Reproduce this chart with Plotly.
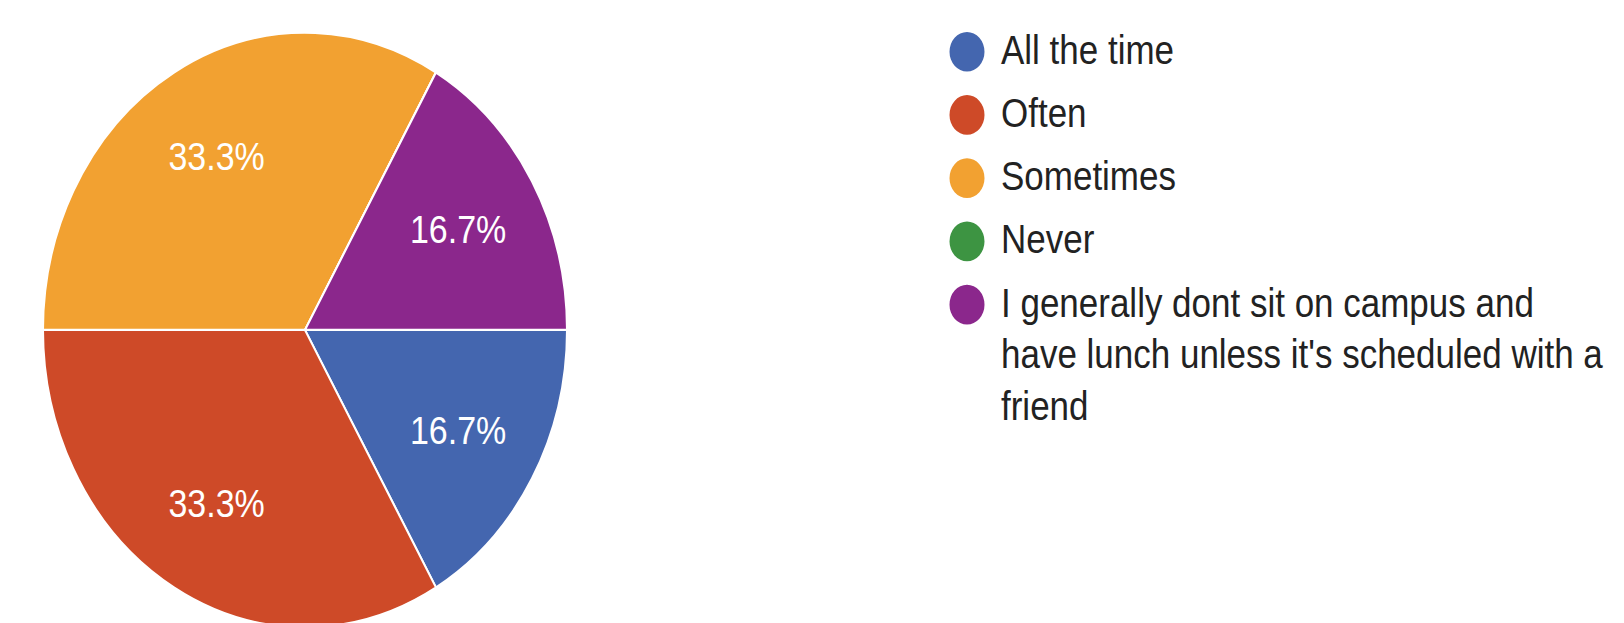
import plotly.graph_objects as go

# Survey answers and how many respondents picked each
labels = [
    "All the time",
    "Often",
    "Sometimes",
    "Never",
    "I generally dont sit on campus and have lunch unless it's scheduled with a friend",
]
legend_text = [
    "All the time",
    "Often",
    "Sometimes",
    "Never",
    "I generally dont sit on campus and<br>have lunch unless it's scheduled with a<br>friend",
]
counts = [1, 2, 2, 0, 1]
colors = ["#4466AF", "#CE4A28", "#F2A131", "#3D9442", "#8B278C"]

# Canvas geometry (drawn at this size, then stretched vertically by STRETCH)
W, H = 1624, 553
STRETCH = 1.135
CX, CY, R = 305, 290.7, 262
FONT = "Liberation Sans, Arial, sans-serif"

dom_x = [(CX - R) / W, (CX + R) / W]
dom_y = [max(0.0, (H - CY - R) / H), (H - CY + R) / H]

fig = go.Figure()

# Coloured slices
fig.add_trace(go.Pie(
    labels=labels,
    values=counts,
    sort=False,
    direction="clockwise",
    rotation=90,
    marker=dict(colors=colors, line=dict(color="white", width=2)),
    textinfo="none",
    hoverinfo="label+percent",
    showlegend=False,
    domain=dict(x=dom_x, y=dom_y),
))

# Percentage labels, set on a ring so they sit out towards the rim
fig.add_trace(go.Pie(
    labels=labels,
    values=counts,
    sort=False,
    direction="clockwise",
    rotation=90,
    hole=0.35,
    marker=dict(colors=["rgba(0,0,0,0)"] * len(counts), line=dict(width=0)),
    texttemplate=["%{percent:.1%}" if v > 0 else "" for v in counts],
    textposition="inside",
    insidetextorientation="horizontal",
    textfont=dict(color="white", size=34, family=FONT),
    hoverinfo="skip",
    showlegend=False,
    domain=dict(x=dom_x, y=dom_y),
))

# Legend: round swatches with labels
LEG_DOT_X, LEG_TEXT_X = 967, 999
LEG_Y0, LEG_DY, DOT = 45.6, 55.7, 35
FS = 35
LINE_H = 1.3 * FS
for i, (txt, col) in enumerate(zip(legend_text, colors)):
    yc = LEG_Y0 + i * LEG_DY
    fig.add_shape(
        type="circle", xref="paper", yref="paper",
        x0=(LEG_DOT_X - DOT / 2) / W, x1=(LEG_DOT_X + DOT / 2) / W,
        y0=(H - yc - DOT / 2) / H, y1=(H - yc + DOT / 2) / H,
        fillcolor=col, line=dict(width=0),
    )
    fig.add_annotation(
        xref="paper", yref="paper",
        x=LEG_TEXT_X / W, y=(H - yc + LINE_H / 2 + 1) / H,
        xanchor="left", yanchor="top", align="left",
        text=txt, showarrow=False,
        font=dict(family=FONT, size=FS, color="#222222"),
    )

fig.update_layout(
    width=W,
    height=H,
    margin=dict(l=0, r=0, t=0, b=0),
    paper_bgcolor="white",
    plot_bgcolor="white",
    showlegend=False,
)

stretch_js = """
document.documentElement.style.overflow = 'hidden';
document.body.style.margin = '0';
document.body.style.overflow = 'hidden';
var gd = document.getElementById('{plot_id}');
gd.style.transformOrigin = '0 0';
gd.style.transform = 'scaleY(%s)';
""" % STRETCH

fig.write_html("out.html", post_script=stretch_js)
